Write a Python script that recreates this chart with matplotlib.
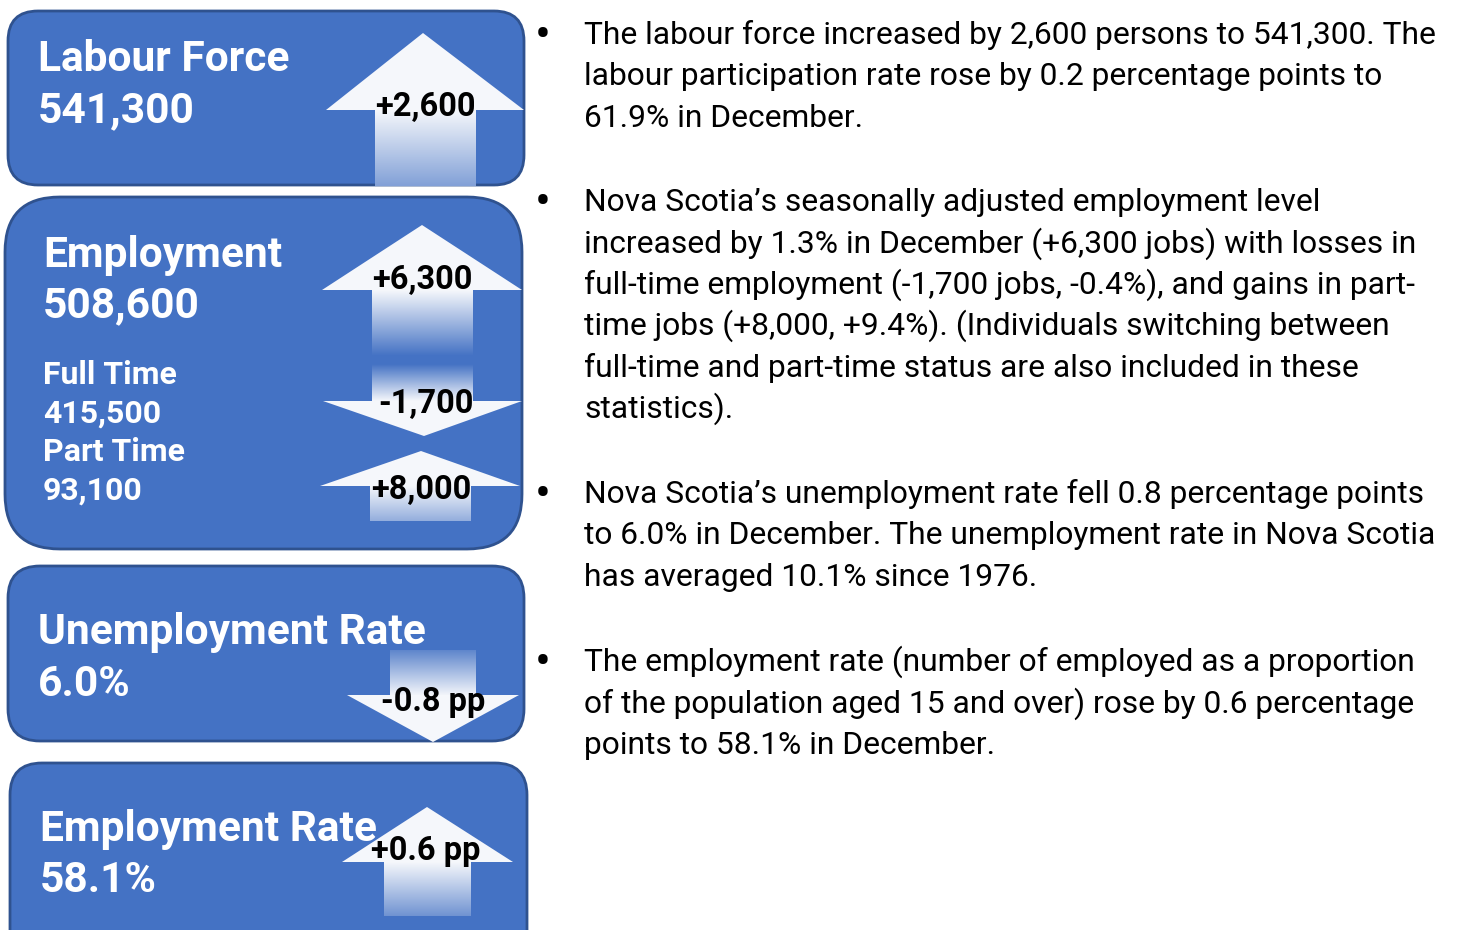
import matplotlib
matplotlib.use("Agg")
import matplotlib.pyplot as plt
import numpy as np
from matplotlib.patches import FancyBboxPatch, Polygon
from matplotlib.colors import to_rgb

plt.rcParams['font.family'] = ['Roboto', 'DejaVu Sans']

# data
titles = ["Labour Force", "Employment", "Unemployment Rate", "Employment Rate"]
values = ["541,300", "508,600", "6.0%", "58.1%"]
changes = ["+2,600", "+6,300", "-0.8 pp", "+0.6 pp"]
sub_labels = ["Full Time", "Part Time"]
sub_values = ["415,500", "93,100"]
sub_changes = ["-1,700", "+8,000"]

bullets = [
    ["The labour force increased by 2,600 persons to 541,300. The",
     "labour participation rate rose by 0.2 percentage points to",
     "61.9% in December."],
    ["Nova Scotia\u2019s seasonally adjusted employment level",
     "increased by 1.3% in December (+6,300 jobs) with losses in",
     "full-time employment (-1,700 jobs, -0.4%), and gains in part-",
     "time jobs (+8,000, +9.4%). (Individuals switching between",
     "full-time and part-time status are also included in these",
     "statistics)."],
    ["Nova Scotia\u2019s unemployment rate fell 0.8 percentage points",
     "to 6.0% in December. The unemployment rate in Nova Scotia",
     "has averaged 10.1% since 1976."],
    ["The employment rate (number of employed as a proportion",
     "of the population aged 15 and over) rose by 0.6 percentage",
     "points to 58.1% in December."],
]

BLUE = "#4472C4"
EDGE = "#2F528F"
WHITE = "#F5F7FB"

fig = plt.figure(figsize=(14.6, 9.3), dpi=100)
ax = fig.add_axes([0, 0, 1, 1])
ax.set_xlim(0, 1460)
ax.set_ylim(930, 0)
ax.axis('off')


def box(x0, y0, x1, y1, r):
    p = FancyBboxPatch((x0, y0), x1 - x0, y1 - y0,
                       boxstyle="round,pad=0,rounding_size=%d" % r,
                       fc=BLUE, ec=EDGE, lw=2, zorder=1)
    ax.add_patch(p)


def shaft(x0, x1, y0, y1, light_top, blue_frac):
    # gradient between near-white and box blue
    n = 100
    t = np.linspace(0, 1, n)
    if not light_top:
        t = t[::-1]
    t = t * blue_frac
    w = np.array(to_rgb(WHITE))
    b = np.array(to_rgb(BLUE))
    arr = (w[None, :] * (1 - t[:, None]) + b[None, :] * t[:, None])[:, None, :]
    ax.imshow(arr, extent=(x0, x1, y1, y0), origin='upper',
              aspect='auto', zorder=2, interpolation='bilinear')


def head(xl, xr, ybase, xtip, ytip):
    ax.add_patch(Polygon([(xl, ybase), (xr, ybase), (xtip, ytip)],
                         closed=True, fc=WHITE, ec='none', zorder=3))


# boxes
box(8, 11, 524, 185, 30)
box(5, 197, 522, 549, 55)
box(8, 566, 524, 741, 32)
box(10, 763, 527, 980, 32)

# arrows
shaft(375, 476, 110, 186, True, 0.65)
head(326, 524, 110, 423, 33)

shaft(372, 473, 290, 356, True, 1.0)
head(322, 522, 290, 422, 225)

shaft(372, 473, 364, 401, False, 1.0)
head(323, 522, 401, 424, 436)

shaft(370, 471, 486, 521, True, 0.55)
head(320, 520, 486, 421, 451)

shaft(390, 476, 650, 696, False, 0.85)
head(347, 519, 695, 433, 742)

shaft(384, 471, 862, 916, True, 0.75)
head(342, 513, 862, 427, 807)

# box texts
tkw = dict(color='white', fontweight='bold', ha='left', va='baseline', zorder=4)
title_pos = [(38, 71, 122), (43, 267, 317), (38, 644, 696), (40, 841, 892)]
for (x, yt, yv), t, v in zip(title_pos, titles, values):
    ax.text(x, yt, t, fontsize=30.6, **tkw)
    ax.text(x, yv, v, fontsize=30.6, **tkw)

sub_pos = [(384, 423), (461, 500)]
for (yl, yv), l, v in zip(sub_pos, sub_labels, sub_values):
    ax.text(43, yl, l, fontsize=23, **tkw)
    ax.text(43, yv, v, fontsize=23, **tkw)

ckw = dict(color='black', fontweight='bold', ha='center', va='baseline',
           fontsize=23.5, zorder=5)
change_pos = [(425, 116), (422, 289), (433, 711), (426, 860)]
for (x, y), c in zip(change_pos, changes):
    ax.text(x, y, c, **ckw)
sub_change_pos = [(426, 413), (421, 499)]
for (x, y), c in zip(sub_change_pos, sub_changes):
    ax.text(x, y, c, **ckw)

# bullet text
para_top = [44, 211, 503, 671]
lh = 41.4
for y0, lines in zip(para_top, bullets):
    ax.text(543, y0 + 5, "\u2022", fontsize=34, ha='center', va='baseline')
    for i, line in enumerate(lines):
        ax.text(584, y0 + i * lh, line, fontsize=22.9, ha='left', va='baseline')

fig.savefig("out.png", dpi=100)
